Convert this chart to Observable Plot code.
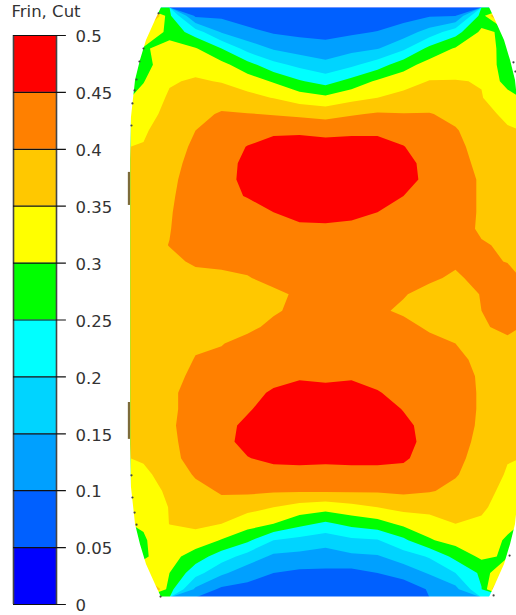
<!DOCTYPE html>
<html><head><meta charset="utf-8">
<script src="https://cdn.jsdelivr.net/npm/d3@7"></script>
<script src="https://cdn.jsdelivr.net/npm/@observablehq/plot@0.6"></script>
<style>
html,body{margin:0;padding:0;background:#fff;overflow:hidden;width:516px;height:615px}
#c{position:relative;width:516px;height:615px}
#c svg{position:absolute;left:0;top:0}
</style></head><body><div id="c"></div>
<script>
const title = "Frin, Cut";
const levels = [0,0.05,0.1,0.15,0.2,0.25,0.3,0.35,0.4,0.45,0.5];
const tickLabels = ["0","0.05","0.1","0.15","0.2","0.25","0.3","0.35","0.4","0.45","0.5"];
const bandColors = ["#0000ff","#0060ff","#00a0ff","#00d4ff","#00ffff","#00ff00","#ffff00","#ffc800","#ff8000","#ff0000"];

// field readings, one list per column of the sampling grid, top row first
const col01=[.5,.35,.295,.283,.298,.315,.33,.345,.352,.36,.365,.37,.375,.38,.385,.38,.375,.37,.37,.37,.37,.37,.37,.37,.365,.36,.355,.355,.34,.325,.315,.305,.295,.295,.32,.5];
const col02=[.26,.285,.315,.33,.345,.357,.365,.37,.375,.38,.385,.39,.395,.398,.401,.392,.385,.38,.375,.375,.375,.38,.385,.39,.39,.39,.385,.38,.37,.36,.352,.351,.33,.32,.30,.27];
const col03=[.09,.225,.304,.332,.356,.364,.386,.40,.41,.42,.43,.435,.435,.43,.42,.405,.39,.385,.385,.39,.395,.402,.41,.42,.42,.43,.43,.425,.405,.385,.375,.36,.33,.275,.22,.14];
const col04=[.09,.145,.25,.315,.347,.378,.405,.415,.425,.43,.43,.44,.445,.44,.43,.405,.395,.39,.39,.395,.398,.41,.42,.43,.435,.435,.435,.43,.425,.405,.385,.35,.297,.225,.16,.09];
const col05=[.07,.115,.18,.27,.325,.365,.402,.425,.452,.462,.465,.452,.435,.43,.42,.41,.398,.385,.38,.39,.415,.425,.44,.445,.445,.46,.465,.448,.435,.41,.365,.322,.26,.18,.12,.085];
const col06=[.065,.095,.145,.215,.295,.348,.397,.44,.47,.48,.485,.475,.45,.44,.43,.425,.41,.393,.395,.41,.425,.435,.445,.452,.47,.48,.48,.462,.43,.405,.35,.30,.20,.14,.10,.07];
const col07=[.06,.088,.127,.187,.255,.325,.39,.44,.475,.49,.495,.485,.465,.44,.435,.435,.425,.405,.41,.425,.435,.44,.445,.465,.48,.49,.49,.465,.43,.405,.33,.265,.185,.135,.09,.065];
const col08=[.06,.085,.117,.165,.23,.31,.383,.435,.47,.49,.495,.49,.47,.44,.435,.435,.43,.425,.425,.43,.435,.44,.44,.465,.485,.495,.495,.465,.425,.405,.32,.24,.17,.127,.09,.065];
const col09=[.06,.092,.135,.19,.267,.335,.395,.44,.47,.49,.495,.485,.46,.44,.435,.435,.43,.42,.42,.43,.435,.44,.445,.465,.485,.495,.495,.465,.43,.405,.335,.265,.19,.14,.085,.065];
const col10=[.07,.102,.147,.225,.308,.35,.405,.44,.47,.485,.485,.47,.45,.44,.43,.43,.425,.41,.405,.42,.43,.435,.44,.452,.47,.485,.485,.465,.43,.405,.35,.28,.197,.145,.10,.07];
const col11=[.08,.125,.19,.28,.33,.365,.402,.425,.452,.47,.47,.45,.44,.43,.425,.42,.41,.402,.395,.41,.425,.43,.435,.44,.448,.46,.465,.458,.43,.41,.365,.312,.24,.175,.12,.07];
const col12=[.095,.17,.265,.32,.352,.375,.402,.41,.42,.43,.435,.435,.43,.425,.42,.41,.405,.39,.385,.395,.41,.42,.425,.43,.435,.435,.435,.425,.415,.403,.365,.33,.295,.205,.155,.105];
const col13=[.098,.23,.305,.33,.352,.37,.39,.403,.41,.415,.42,.42,.42,.415,.41,.405,.395,.38,.375,.385,.40,.41,.415,.42,.42,.42,.415,.41,.403,.39,.37,.35,.32,.265,.20,.135];
const col14=[.27,.31,.32,.335,.348,.352,.365,.38,.385,.39,.395,.395,.395,.395,.403,.41,.41,.402,.40,.395,.39,.39,.395,.395,.395,.393,.39,.385,.38,.375,.36,.34,.32,.31,.26,.248];
const col15=[.5,.29,.285,.275,.28,.32,.34,.355,.365,.375,.38,.385,.39,.39,.395,.398,.42,.43,.425,.41,.39,.385,.38,.375,.37,.365,.357,.353,.345,.33,.32,.31,.295,.293,.38,.5];
const columns=[col01,col02,col03,col04,col05,col06,col07,col08,col09,col10,col11,col12,col13,col14,col15];

// outline of the part: half width against height, in unit coordinates
const outlineY=[1,.956,.888,.82,.753,.627,.481,0,-.481,-.627,-.753,-.82,-.888,-.956,-1];
const outlineHalf=[.841,.872,.918,.949,.974,.995,1,1,1,.995,.974,.949,.918,.872,.841];
// small dark marks on the outline
const markX=[-.856,-.933,-.954,-.969,-.979,-.99,-.995,-.995,-.99,-.979,-.969,-.846,.964,.974,.944,.862];
const markY=[.98,.861,.817,.756,.719,.675,.6,-.586,-.661,-.712,-.753,-.997,.814,.783,-.858,-.993];
const segTop=[.441,-.339];
const segBottom=[.329,-.464];

const nRows=col01.length, nCols=columns.length;
const field=[];
for(let r=0;r<nRows;r++) for(let c=0;c<nCols;c++) field.push(columns[c][r]);
const outline=outlineY.map((y,i)=>({y,half:outlineHalf[i]}));
const marks=markX.map((x,i)=>({x,y:markY[i]}));
const segs=segTop.map((t,i)=>({t,b:segBottom[i]}));
const color={type:"threshold",domain:levels.slice(1,-1),range:bandColors};

const map=Plot.plot({
  width:516,height:615,margin:0,
  x:{domain:[-1,1],range:[130,520],axis:null},
  y:{domain:[-1,1],range:[597,7],axis:null},
  color,
  marks:[
    Plot.contour(field,{width:nCols,height:nRows,x1:-1,x2:1,y1:1,y2:-1,value:Plot.identity,thresholds:levels.slice(0,-1),fill:"value",stroke:"none"}),
    Plot.area(outline,{y1:"y",x1:()=>-1.03,x2:d=>-d.half,fill:"white"}),
    Plot.area(outline,{y1:"y",x1:d=>d.half,x2:()=>1.03,fill:"white"}),
    Plot.ruleY([-1.003],{stroke:"white",strokeWidth:4}),
    Plot.ruleY([1.006],{stroke:"white",strokeWidth:3}),
    Plot.dot(marks,{x:"x",y:"y",r:1.1,fill:"#444",stroke:"none"}),
    Plot.ruleX(segs,{x:()=>-1.008,y1:"t",y2:"b",stroke:"#7d6b3a",strokeWidth:2.2})
  ]
});
const bands=levels.slice(0,-1);
const legend=Plot.plot({
  width:130,height:615,margin:0,
  x:{domain:[0,1],range:[13,56],axis:null},
  y:{domain:[0,.5],range:[604,35],axis:null},
  color,
  marks:[
    Plot.rect(bands,{x1:()=>0,x2:()=>1,y1:d=>d,y2:(d,i)=>levels[i+1],fill:d=>d,inset:0}),
    Plot.ruleX([0,1],{y1:()=>0,y2:()=>.5,stroke:"#444",strokeWidth:1.6}),
    Plot.ruleY(levels,{x1:()=>0,x2:()=>1.23,stroke:"#111",strokeWidth:1.2}),
    Plot.text(tickLabels,{x:()=>1,y:(d,i)=>levels[i],text:d=>d,dx:19,dy:1.5,textAnchor:"start",fontSize:16.5,fontFamily:"DejaVu Sans",fill:"#333"}),
    Plot.text([title],{frameAnchor:"top-left",dx:11,dy:5,textAnchor:"start",fontSize:16.5,fontFamily:"DejaVu Sans",fill:"#333"})
  ]
});
const c=document.getElementById("c");
c.appendChild(map);c.appendChild(legend);
</script></body></html>
